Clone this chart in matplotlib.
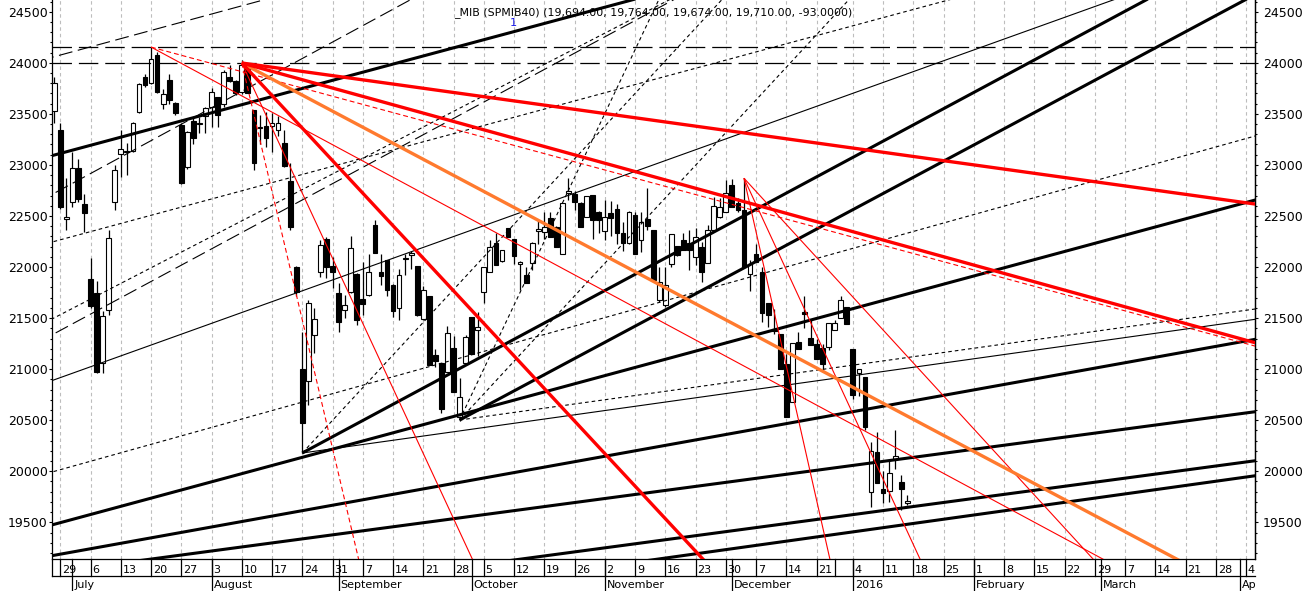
import numpy as np
import pandas as pd
import matplotlib
matplotlib.use("Agg")
import matplotlib.pyplot as plt
from matplotlib.transforms import blended_transform_factory, Bbox, TransformedBbox

plt.rcParams['font.family'] = ['DejaVu Sans']
plt.rcParams['lines.scale_dashes'] = False

# ---------------- calendar ----------------
HOLIDAYS = ['2015-12-24', '2015-12-25', '2015-12-31', '2016-01-01']
FIRST_DAY = '2015-06-26'
BASE_DAY = '2015-06-29'
LAST_AXIS_DAY = '2016-04-15'
SKIP_TICK_WEEKS = ['2015-12-28']
MONTH_NAMES = ['July', 'August', 'September', 'October', 'November', 'December',
               '2016', 'February', 'March', 'April']

# ---------------- candles (FTSE MIB daily, from 2015-06-26) ----------------
OPEN = [23530, 23340, 22470, 22634, 22966, 22617, 21880, 21745, 21057, 21579,
        22640, 23104, 23125, 23139, 23522, 23858, 23805, 24076, 23593, 23831,
        23603, 23391, 22982, 23433, 23400, 23479, 23564, 23662, 23596, 23858,
        23821, 23711, 23946, 23537, 23360, 23381, 23381, 23342, 23211, 22842,
        22003, 20998, 20884, 21334, 21954, 22271, 22010, 21744, 21579, 21758,
        21931, 21683, 21726, 22411, 21950, 22067, 21823, 21595, 22075, 22120,
        22010, 21487, 21716, 21138, 21057, 20975, 21204, 20534, 21057, 21507,
        21383, 21758, 21954, 22238, 22059, 22379, 22271, 22030, 21921, 22036,
        22350, 22346, 22477, 22395, 22127, 22728, 22715, 22630, 22493, 22705,
        22542, 22352, 22532, 22565, 22330, 22232, 22509, 22264, 22467, 22362,
        21677, 21627, 22030, 22206, 22264, 22232, 22101, 22199, 22036, 22359,
        22487, 22542, 22803, 22630, 22558, 21931, 22127, 21954, 21650, 21396,
        21347, 21053, 20681, 21265, 21563, 21304, 21242, 21204, 21220, 21383,
        21497, 21605, 21193, 20964, 20926, 19794, 20191, 19823, 19810, 20119,
        19892, 19694]
HIGH = [23860, 23410, 22870, 23130, 23055, 22715, 22085, 21861, 21572, 22362,
        22997, 23342, 23211, 23420, 23800, 23890, 24157, 24110, 23740, 23890,
        23620, 23410, 23330, 23472, 23472, 23570, 23750, 23670, 23930, 23978,
        23830, 24030, 23990, 23540, 23490, 23520, 23505, 23480, 23340, 23022,
        22010, 21367, 21677, 21600, 22260, 22290, 22102, 21840, 21726, 22300,
        21940, 22046, 22124, 22460, 22124, 22070, 21830, 21980, 22130, 22160,
        22015, 21810, 21720, 21200, 21060, 21420, 21320, 20910, 21330, 21510,
        21555, 21997, 22260, 22330, 22170, 22380, 22275, 22060, 22000, 22250,
        22460, 22540, 22540, 22400, 22630, 22869, 22740, 22635, 22700, 22710,
        22545, 22660, 22650, 22620, 22440, 22545, 22540, 22540, 22770, 22365,
        22000, 22000, 22320, 22210, 22330, 22360, 22380, 22250, 22410, 22690,
        22680, 22850, 22860, 22680, 22870, 22070, 22230, 22000, 21650, 21590,
        21347, 21150, 21259, 21360, 21720, 21490, 21300, 21250, 21448, 21480,
        21720, 21605, 21193, 21000, 20926, 20289, 20380, 20000, 20100, 20408,
        19965, 19764]
LOW = [23410, 22570, 22360, 22590, 22640, 22346, 21600, 20960, 20959, 21530,
       22558, 22884, 22901, 23130, 23510, 23766, 23790, 23700, 23544, 23600,
       23490, 22810, 22960, 23205, 23310, 23310, 23368, 23368, 23570, 23815,
       23680, 23690, 23700, 22950, 23205, 23180, 23129, 23280, 22980, 22360,
       21720, 20176, 20649, 21161, 21900, 21890, 21792, 21360, 21497, 21750,
       21430, 21530, 21720, 22140, 21820, 21720, 21510, 21480, 21920, 21980,
       21525, 21480, 21040, 21020, 20570, 20970, 20779, 20495, 21050, 21150,
       21124, 21650, 21950, 22020, 22050, 22290, 22030, 21774, 21846, 21970,
       22230, 22270, 22291, 22193, 22127, 22656, 22560, 22389, 22490, 22270,
       22330, 22260, 22300, 22230, 22160, 22230, 22127, 22150, 22360, 21873,
       21660, 21610, 21997, 22110, 22166, 21970, 22020, 21850, 22036, 22359,
       22480, 22542, 22591, 22540, 22003, 21770, 22052, 21460, 21410, 21340,
       21004, 20534, 20681, 21200, 21400, 21232, 21098, 20990, 21190, 21383,
       21497, 21442, 20710, 20736, 20400, 19653, 19888, 19690, 19700, 20020,
       19623, 19674]
CLOSE = [23805, 22585, 22490, 22966, 22666, 22526, 21618, 20977, 21520, 22281,
         22950, 23153, 23135, 23407, 23789, 23779, 24034, 23717, 23691, 23635,
         23511, 22820, 23326, 23260, 23410, 23554, 23717, 23488, 23912, 23825,
         23707, 23978, 23707, 23016, 23370, 23260, 23414, 23407, 22992, 22395,
         21758, 20475, 21650, 21488, 22215, 22003, 21954, 21464, 21628, 22182,
         21481, 21637, 21954, 22140, 21911, 21773, 21572, 21921, 22090, 22140,
         21530, 21774, 21040, 21083, 20607, 21351, 20779, 20730, 21312, 21150,
         21410, 21997, 22193, 22020, 22166, 22290, 22107, 22052, 21846, 22232,
         22370, 22395, 22291, 22193, 22630, 22748, 22640, 22389, 22695, 22460,
         22460, 22487, 22477, 22336, 22238, 22542, 22127, 22444, 22402, 21873,
         21856, 21823, 22320, 22118, 22166, 22166, 22297, 21954, 22362, 22600,
         22585, 22728, 22591, 22558, 22003, 22030, 22052, 21553, 21526, 21370,
         21004, 20534, 21259, 21200, 21536, 21232, 21098, 21053, 21448, 21448,
         21677, 21442, 20747, 20997, 20436, 20201, 19888, 19784, 19980, 20152,
         19823, 19710]

HLINES = [24150, 24000]

# trend lines: (bar0, price0, bar1, price1, mode) ; bars counted from 2015-06-29
THICK_BLACK = [(-1.42, 23090, 94.45, 24615, 'line'),
               (40, 20179, 179.45, 24615, 'ray'),
               (66, 20502, 195.8, 24615, 'ray'),
               (-1.42, 19474, 197.48, 22656, 'line'),
               (-1.42, 19173, 197.48, 21292, 'line'),
               (15.1, 19141, 197.48, 20583, 'line'),
               (76.25, 19141, 197.48, 20103, 'line'),
               (98.9, 19141, 197.48, 19956, 'line')]
THIN_BLACK = [(-1.42, 20887, 174.0, 24615, 'line'),
              (40, 20179, 197.48, 21488, 'ray')]
LONGDASH_BLACK = [(-1.42, 24053, 33.55, 24615, 'line'),
                  (0.5, 22771, 57.8, 24615, 'line'),
                  (-1.42, 21334, 101.3, 24615, 'line')]
DOTTED_BLACK = [(-1.42, 22244, 146.8, 24615, 'line'),
                (-1.42, 19992, 197.48, 23283, 'line'),
                (66, 20502, 197.48, 21589, 'ray'),
                (-1.15, 21498, 100.6, 24615, 'line'),
                (66, 20502, 130.3, 24615, 'ray'),
                (66, 20502, 98.9, 24615, 'ray'),
                (40, 20179, 109.3, 24615, 'ray')]
THICK_RED = [(30, 23998, 197.48, 22617, 'ray'),
             (30, 23998, 197.48, 21259, 'ray'),
             (30, 23998, 106.2, 19141, 'ray')]
THICK_ORANGE = [(30, 23998, 184.5, 19141, 'ray')]
THIN_RED = [(15, 24154, 172.3, 19141, 'ray'),
            (30, 23998, 68.1, 19141, 'ray'),
            (113, 22870, 170.7, 19141, 'ray'),
            (113, 22870, 142.1, 19141, 'ray'),
            (113, 22870, 127.2, 19141, 'ray')]
DASHED_RED = [(15, 24154, 197.48, 21226, 'ray'),
              (30, 23998, 49.3, 19141, 'ray')]

TITLE = "_MIB (SPMIB40) (19,694.00, 19,764.00, 19,674.00, 19,710.00, -93.0000)"

# ---------------- build ----------------
W, H = 1306, 591
fig = plt.figure(figsize=(W / 100, H / 100), dpi=100)
AX_L, AX_R, AX_B, AX_T = 51.7, 1255.0, 559.3, 0.0
ax = fig.add_axes([AX_L / W, (H - AX_B) / H, (AX_R - AX_L) / W, (AX_B - AX_T) / H])

XMIN, XMAX = -1.42, 197.47
YMIN, YMAX = 19138, 24615
ax.set_xlim(XMIN, XMAX)
ax.set_ylim(YMIN, YMAX)

days = pd.bdate_range(FIRST_DAY, LAST_AXIS_DAY)
days = days[~days.isin(pd.to_datetime(HOLIDAYS))]
base = days.get_loc(pd.Timestamp(BASE_DAY))
bar = np.arange(len(days)) - base

# gridlines and ticks at first trading day of each week
wk = days.to_period('W')
first_of_week = [i for i in range(1, len(days)) if wk[i] != wk[i - 1]]
skip = set(pd.to_datetime(SKIP_TICK_WEEKS))
tick_idx = [i for i in first_of_week if days[i] not in skip and XMIN <= bar[i] <= XMAX]
for i in tick_idx:
    ax.axvline(bar[i], color='#bdbdbd', lw=0.8, dashes=(2.5, 2.2), zorder=0)

# candles
n = len(OPEN)
cx = bar[:n]
bw = 0.78
for k in range(n):
    o, h, l, c = OPEN[k], HIGH[k], LOW[k], CLOSE[k]
    ax.plot([cx[k], cx[k]], [l, h], color='black', lw=0.9, zorder=2, solid_capstyle='butt')
    lo, hi = min(o, c), max(o, c)
    if hi - lo < 8:
        hi = lo + 8
    face = 'white' if c >= o else 'black'
    ax.add_patch(plt.Rectangle((cx[k] - bw / 2, lo), bw, hi - lo, facecolor=face,
                               edgecolor='black', lw=0.8, zorder=3))


def seg(x0, p0, x1, p1, mode):
    s = (p1 - p0) / (x1 - x0)
    xa = x0 if mode == 'ray' else XMIN - 5
    xb = XMAX + 5
    return [xa, xb], [p0 + s * (xa - x0), p0 + s * (xb - x0)]


def draw(lines, **kw):
    for ln in lines:
        xs, ys = seg(*ln)
        ax.plot(xs, ys, solid_capstyle='butt', **kw)


for hv in HLINES:
    ax.axhline(hv, color='black', lw=0.9, dashes=(14, 5), zorder=4)
draw(LONGDASH_BLACK, color='black', lw=0.8, dashes=(10, 4), zorder=4)
draw(DOTTED_BLACK, color='black', lw=0.8, dashes=(2.6, 2.2), zorder=4)
draw(THIN_BLACK, color='black', lw=0.8, zorder=4)
draw(THICK_BLACK, color='black', lw=2.2, zorder=5)
draw(DASHED_RED, color='#ff0000', lw=0.8, dashes=(3.5, 2.2), zorder=5)
draw(THIN_RED, color='#ff0000', lw=0.8, zorder=5)
draw(THICK_ORANGE, color='#ff7a2e', lw=2.4, zorder=6)
draw(THICK_RED, color='#ff0000', lw=2.4, zorder=6)

# spines / y axes
ax.spines['top'].set_visible(False)
for s in ['left', 'right', 'bottom']:
    ax.spines[s].set_linewidth(0.9)
ax.set_xticks([])
YT = np.arange(19500, 24501, 500)
YM = np.arange(19200, 24601, 100)
fmt = matplotlib.ticker.FuncFormatter(lambda v, p: f"{int(v)}")
ax.set_yticks(YT)
ax.set_yticks(YM, minor=True)
ax.tick_params(axis='y', which='major', length=2.5, width=0.8, pad=0.3, labelsize=9.0, direction='out')
ax.tick_params(axis='y', which='minor', length=1.6, width=0.8, direction='out')
ax.yaxis.set_major_formatter(fmt)
sec = ax.secondary_yaxis('right')
sec.set_yticks(YT)
sec.set_yticks(YM, minor=True)
sec.tick_params(axis='y', which='major', length=2.5, width=0.8, pad=3.2, labelsize=9.0, direction='out')
sec.tick_params(axis='y', which='minor', length=1.6, width=0.8, direction='out')
sec.yaxis.set_major_formatter(fmt)
sec.spines['right'].set_linewidth(0.9)

# date axis (drawn manually below the plot)
tr = blended_transform_factory(ax.transData, ax.transAxes)
hpx = AX_B - AX_T


def fy(ypx):
    return (AX_B - ypx) / hpx


clipbox = TransformedBbox(Bbox([[0, 0], [AX_R / W, 1]]), fig.transFigure)
ROW1, ROW2 = 576.0, 591.0
ax.plot([XMIN, XMAX], [fy(ROW1), fy(ROW1)], transform=tr, color='black', lw=0.9, clip_on=False)
ax.plot([XMIN, XMIN], [fy(AX_B), fy(ROW1)], transform=tr, color='black', lw=0.9, clip_on=False)
for i in tick_idx:
    ax.plot([bar[i], bar[i]], [fy(AX_B), fy(ROW1)], transform=tr, color='black', lw=0.9, clip_on=False)
    ax.text(bar[i] + 0.3, fy(572.8), str(days[i].day), transform=tr, ha='left', va='baseline',
            fontsize=8.0, clip_on=False)
for d in SKIP_TICK_WEEKS:
    i = days.get_loc(pd.Timestamp(d))
    ax.plot([bar[i], bar[i]], [fy(AX_B), fy(ROW1)], transform=tr, color='black', lw=0.9, clip_on=False)

mon = days.to_period('M')
first_of_month = [i for i in range(1, len(days)) if mon[i] != mon[i - 1]]
for k, i in enumerate(first_of_month):
    if bar[i] > XMAX:
        break
    ax.plot([bar[i], bar[i]], [fy(AX_B), fy(ROW2)], transform=tr, color='black', lw=0.9, clip_on=False)
    t = ax.text(bar[i] + 0.35, fy(588.5), MONTH_NAMES[k], transform=tr, ha='left', va='baseline',
                fontsize=8.0, clip_on=True)
    t.set_clip_box(clipbox)

# title
fig.text(454 / W, 1 - 15.5 / H, TITLE, ha='left', va='baseline', fontsize=7.9, color='black', zorder=1)
fig.text(510 / W, 1 - 26.5 / H, "1", ha='left', va='baseline', fontsize=8.2, color='#1a1ae6')

fig.savefig('out.png', dpi=100)
